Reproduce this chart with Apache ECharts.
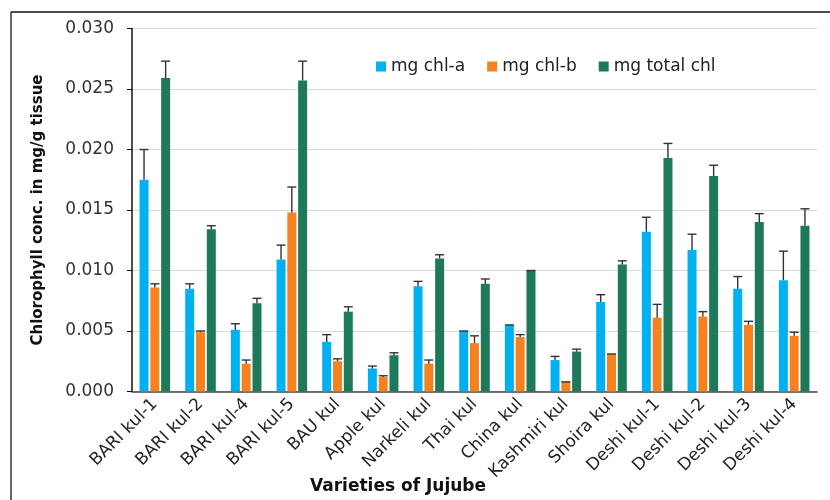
<!DOCTYPE html>
<html>
<head>
<meta charset="utf-8">
<script src="https://cdn.jsdelivr.net/npm/echarts@6/dist/echarts.min.js"></script>
<style>
html,body{margin:0;padding:0;background:#fff;}
#chart{width:830px;height:500px;}
</style>
</head>
<body>
<div id="chart"></div>
<script>
var categories = ['BARI kul-1','BARI kul-2','BARI kul-4','BARI kul-5','BAU kul','Apple kul','Narkeli kul','Thai kul','China kul','Kashmiri kul','Shoira kul','Deshi kul-1','Deshi kul-2','Deshi kul-3','Deshi kul-4'];
var seriesNames = ['mg chl-a','mg chl-b','mg total chl'];
var chlA     = [0.0175,0.0085,0.0051,0.0109,0.0041,0.0019,0.0087,0.0050,0.0055,0.0026,0.0074,0.0132,0.0117,0.0085,0.0092];
var chlAErr  = [0.0025,0.0004,0.0005,0.0012,0.0006,0.0002,0.0004,0.0000,0.0000,0.0003,0.0006,0.0012,0.0013,0.0010,0.0024];
var chlB     = [0.0086,0.0049,0.0023,0.0148,0.0025,0.0012,0.0023,0.0040,0.0045,0.0008,0.0031,0.0061,0.0062,0.0055,0.0046];
var chlBErr  = [0.0003,0.0001,0.0003,0.0021,0.0002,0.0001,0.0003,0.0006,0.0002,0.0000,0.0000,0.0011,0.0004,0.0003,0.0003];
var total    = [0.0259,0.0134,0.0073,0.0257,0.0066,0.0030,0.0110,0.0089,0.0100,0.0033,0.0105,0.0193,0.0178,0.0140,0.0137];
var totalErr = [0.0014,0.0003,0.0004,0.0016,0.0004,0.0002,0.0003,0.0004,0.0000,0.0002,0.0003,0.0012,0.0009,0.0007,0.0014];
var yTicks = [0.000,0.005,0.010,0.015,0.020,0.025,0.030];

var colors = ['#00B0F0','#F5821F','#1E785A'];
var values = [chlA, chlB, total];
var errors = [chlAErr, chlBErr, totalErr];
var BAR_W = 9, BAR_GAP = 0.2;
var FONT = 'DejaVu Sans';

var chart = echarts.init(document.getElementById('chart'));

var series = [];
values.forEach(function (vals, k) {
  series.push({
    name: seriesNames[k],
    type: 'bar',
    data: vals,
    barWidth: BAR_W,
    barGap: (BAR_GAP*100) + '%',
    itemStyle: {color: colors[k]},
    z: 2
  });
});
values.forEach(function (vals, k) {
  var data = vals.map(function (v, i) { return [i, v, v + errors[k][i]]; });
  series.push({
    type: 'custom',
    name: 'err' + k,
    data: data,
    z: 5,
    silent: true,
    renderItem: function (params, api) {
      var off = (k - 1) * BAR_W * (1 + BAR_GAP);
      var p0 = api.coord([api.value(0), api.value(1)]);
      var p1 = api.coord([api.value(0), api.value(2)]);
      var x = p0[0] + off;
      var st = {stroke: '#333333', lineWidth: 1.4};
      return {
        type: 'group',
        children: [
          {type: 'line', shape: {x1: x, y1: p0[1], x2: x, y2: p1[1]}, style: st},
          {type: 'line', shape: {x1: x - 4.5, y1: p1[1], x2: x + 4.5, y2: p1[1]}, style: st}
        ]
      };
    }
  });
});

chart.setOption({
  animation: false,
  backgroundColor: '#ffffff',
  textStyle: {fontFamily: FONT},
  legend: {
    data: seriesNames,
    left: 371,
    top: 53,
    itemWidth: 10,
    itemHeight: 10,
    itemGap: 22,
    icon: 'rect',
    textStyle: {fontFamily: FONT, fontSize: 17, color: '#222'}
  },
  grid: {left: 132, right: 13, top: 28.5, bottom: 108.5, containLabel: false},
  xAxis: {
    type: 'category',
    data: categories,
    axisLine: {lineStyle: {color: '#444', width: 1.5}},
    axisTick: {show: false},
    axisLabel: {
      rotate: 45, interval: 0, margin: 10,
      fontFamily: FONT, fontSize: 17, color: '#222'
    }
  },
  yAxis: {
    type: 'value',
    min: yTicks[0],
    max: yTicks[yTicks.length - 1],
    interval: yTicks[1] - yTicks[0],
    name: 'Chlorophyll conc. in mg/g tissue',
    nameLocation: 'middle',
    nameRotate: 90,
    nameGap: 86,
    nameTextStyle: {fontFamily: FONT, fontSize: 15, fontWeight: 'bold', color: '#111'},
    axisLine: {show: true, lineStyle: {color: '#111', width: 1.5}},
    axisTick: {show: true, length: 5, lineStyle: {color: '#111'}},
    axisLabel: {
      margin: 18,
      fontFamily: FONT, fontSize: 17, color: '#333',
      formatter: function (v) { return v.toFixed(3); }
    },
    splitLine: {lineStyle: {color: '#d9d9d9', width: 1}}
  },
  graphic: [
    {type: 'line', shape: {x1: 11, y1: 12, x2: 830, y2: 12}, style: {stroke: '#111', lineWidth: 1.5}},
    {type: 'line', shape: {x1: 11, y1: 12, x2: 11, y2: 500}, style: {stroke: '#333', lineWidth: 1.5}},
    {type: 'text', left: 310, top: 478,
     style: {text: 'Varieties of Jujube', fontFamily: FONT, fontSize: 17, fontWeight: 'bold', fill: '#111'}}
  ],
  series: series
});
</script>
</body>
</html>
